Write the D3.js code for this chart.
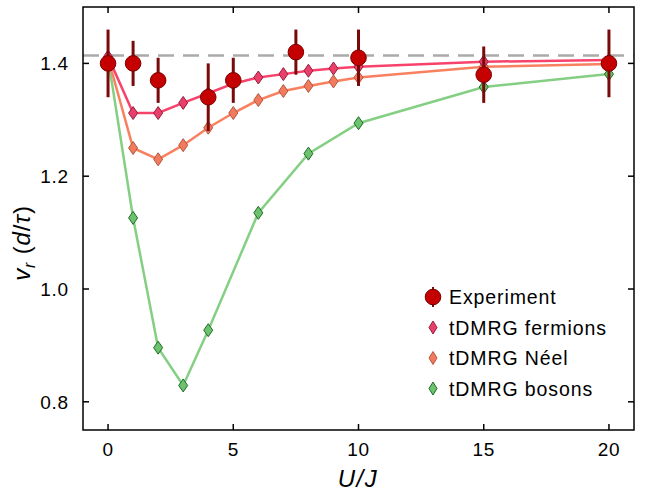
<!DOCTYPE html>
<html>
<head>
<meta charset="utf-8">
<script src="https://cdn.jsdelivr.net/npm/d3@7"></script>
<style>
	body { margin: 0; background: #fff; }
	svg { font-family: "Liberation Sans", Arial, sans-serif; }
</style>
</head>
<body>
<svg id="chart" width="646" height="494"></svg>
<script>
// experiment
const expX = [0, 1, 2, 4, 5, 7.5, 10, 15, 20];
const expY = [1.40, 1.40, 1.37, 1.34, 1.37, 1.42, 1.41, 1.38, 1.40];
const expErr = [0.06, 0.04, 0.04, 0.06, 0.04, 0.04, 0.05, 0.05, 0.06];

// tDMRG curves
const fermionX = [0, 1, 2, 3, 4, 5, 6, 7, 8, 9, 10, 15, 20];
const fermionY = [1.412, 1.312, 1.312, 1.330, 1.347, 1.364, 1.375, 1.381, 1.387, 1.391, 1.394, 1.403, 1.406];
const neelX = [0, 1, 2, 3, 4, 5, 6, 7, 8, 9, 10, 15, 20];
const neelY = [1.41, 1.250, 1.230, 1.255, 1.286, 1.312, 1.335, 1.351, 1.360, 1.368, 1.375, 1.394, 1.399];
const bosonX = [0, 1, 2, 3, 4, 6, 8, 10, 15, 20];
const bosonY = [1.41, 1.126, 0.896, 0.829, 0.927, 1.135, 1.240, 1.294, 1.358, 1.381];

const xTicks = [0, 5, 10, 15, 20];
const yTicks = [0.8, 1.0, 1.2, 1.4];
const refLine = Math.SQRT2;

const legendLabels = ["Experiment", "tDMRG fermions", "tDMRG Néel", "tDMRG bosons"];

const margin = {left: 83, top: 7, right: 12, bottom: 64};
const width = 646, height = 494;

const svg = d3.select("#chart");

const xScale = d3.scaleLinear().domain([-1, 21]).range([margin.left, width - margin.right]);
const yScale = d3.scaleLinear().domain([0.75, 1.5]).range([height - margin.bottom, margin.top]);

const styles = {
	fermion: {line: "#f7436c", fill: "#e8406b", stroke: "#9c1c3c"},
	neel: {line: "#f8805f", fill: "#f27b5e", stroke: "#b3553e"},
	boson: {line: "#84cf84", fill: "#6dc26d", stroke: "#1d6b27"}
};

function diamond(g, x, y, w, h, s) {
	g.append("path")
		.attr("d", `M${x},${y - h}L${x + w},${y}L${x},${y + h}L${x - w},${y}Z`)
		.attr("fill", s.fill)
		.attr("stroke", s.stroke)
		.attr("stroke-width", 1);
}

// dashed reference line
svg.append("line")
	.attr("x1", xScale(-1)).attr("x2", xScale(21))
	.attr("y1", yScale(refLine)).attr("y2", yScale(refLine))
	.attr("stroke", "#aaaaaa")
	.attr("stroke-width", 2.5)
	.attr("stroke-dasharray", "16,9");

// curves
function drawSeries(xs, ys, s) {
	const pts = xs.map((x, i) => [x, ys[i]]);
	const line = d3.line().x(d => xScale(d[0])).y(d => yScale(d[1]));
	svg.append("path")
		.attr("d", line(pts))
		.attr("fill", "none")
		.attr("stroke", s.line)
		.attr("stroke-width", 2.5);
	const g = svg.append("g");
	pts.forEach(d => diamond(g, xScale(d[0]), yScale(d[1]), 4.5, 6.5, s));
}

drawSeries(bosonX, bosonY, styles.boson);
drawSeries(neelX, neelY, styles.neel);
drawSeries(fermionX, fermionY, styles.fermion);

// experiment points with error bars
const expG = svg.append("g");
expX.forEach((x, i) => {
	expG.append("line")
		.attr("x1", xScale(x)).attr("x2", xScale(x))
		.attr("y1", yScale(expY[i] - expErr[i]))
		.attr("y2", yScale(expY[i] + expErr[i]))
		.attr("stroke", "#7a0a0a")
		.attr("stroke-width", 3);
	expG.append("circle")
		.attr("cx", xScale(x)).attr("cy", yScale(expY[i]))
		.attr("r", 7.8)
		.attr("fill", "#c40000")
		.attr("stroke", "#7a0000")
		.attr("stroke-width", 1);
});

// axes with inward ticks on all sides
const axisG = svg.append("g");
axisG.append("rect")
	.attr("x", xScale(-1)).attr("y", yScale(1.5))
	.attr("width", xScale(21) - xScale(-1))
	.attr("height", yScale(0.75) - yScale(1.5))
	.attr("fill", "none")
	.attr("stroke", "#000")
	.attr("stroke-width", 1.5);

const tickLen = 6;
xTicks.forEach(t => {
	axisG.append("line")
		.attr("x1", xScale(t)).attr("x2", xScale(t))
		.attr("y1", yScale(0.75)).attr("y2", yScale(0.75) - tickLen)
		.attr("stroke", "#000").attr("stroke-width", 1.5);
	axisG.append("line")
		.attr("x1", xScale(t)).attr("x2", xScale(t))
		.attr("y1", yScale(1.5)).attr("y2", yScale(1.5) + tickLen)
		.attr("stroke", "#000").attr("stroke-width", 1.5);
	axisG.append("text")
		.attr("x", xScale(t)).attr("y", yScale(0.75) + 26)
		.attr("text-anchor", "middle")
		.attr("font-size", 19)
		.attr("letter-spacing", 0.6)
		.text(t);
});
yTicks.forEach(t => {
	axisG.append("line")
		.attr("x1", xScale(-1)).attr("x2", xScale(-1) + tickLen)
		.attr("y1", yScale(t)).attr("y2", yScale(t))
		.attr("stroke", "#000").attr("stroke-width", 1.5);
	axisG.append("line")
		.attr("x1", xScale(21)).attr("x2", xScale(21) - tickLen)
		.attr("y1", yScale(t)).attr("y2", yScale(t))
		.attr("stroke", "#000").attr("stroke-width", 1.5);
	axisG.append("text")
		.attr("x", xScale(-1) - 14).attr("y", yScale(t) + 7)
		.attr("text-anchor", "end")
		.attr("font-size", 19)
		.attr("letter-spacing", 0.8)
		.text(t.toFixed(1));
});

// axis labels
svg.append("text")
	.attr("x", 358).attr("y", 487)
	.attr("text-anchor", "middle")
	.attr("font-size", 24)
	.attr("letter-spacing", 1.5)
	.attr("font-style", "italic")
	.text("U/J");

const yLab = svg.append("text")
	.attr("transform", "translate(30,243) rotate(-90)")
	.attr("text-anchor", "middle")
	.attr("font-size", 24)
	.attr("letter-spacing", 0.8);
yLab.append("tspan").attr("font-style", "italic").text("v");
yLab.append("tspan").attr("font-style", "italic").attr("font-size", 16).attr("dy", 5).text("r");
yLab.append("tspan").attr("dy", -5).text(" (");
yLab.append("tspan").attr("font-style", "italic").text("d");
yLab.append("tspan").text("/");
yLab.append("tspan").attr("font-style", "italic").text("τ");
yLab.append("tspan").text(")");

// legend
const legend = svg.append("g");
const legX = 433, legY0 = 297, legStep = 30.5;
legendLabels.forEach((label, i) => {
	const y = legY0 + i * legStep;
	if (i === 0) {
		legend.append("line")
			.attr("x1", legX).attr("x2", legX)
			.attr("y1", y - 10).attr("y2", y + 10)
			.attr("stroke", "#7a0a0a").attr("stroke-width", 2);
		legend.append("circle")
			.attr("cx", legX).attr("cy", y).attr("r", 7.8)
			.attr("fill", "#c40000").attr("stroke", "#7a0000");
	} else {
		const s = [styles.fermion, styles.neel, styles.boson][i - 1];
		diamond(legend, legX, y, 4, 6.5, s);
	}
	legend.append("text")
		.attr("x", 449).attr("y", y + 7)
		.attr("font-size", 19.5)
		.attr("letter-spacing", 0.9)
		.text(label);
});
</script>
</body>
</html>
